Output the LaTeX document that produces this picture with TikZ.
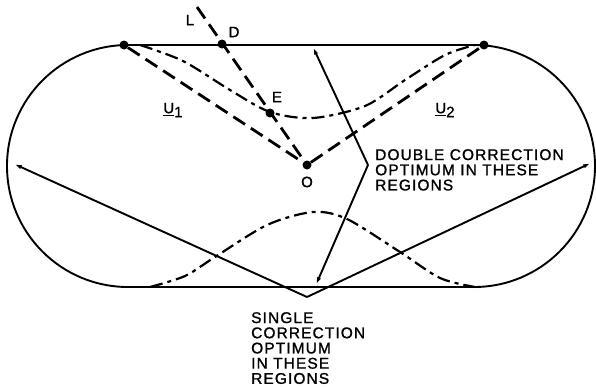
\documentclass[tikz,border=0pt]{standalone}
\usepackage{fontspec}
\newfontfamily\labelfont[LetterSpace=7,FakeBold=1.2]{Liberation Sans}
\usetikzlibrary{arrows.meta}

\begin{document}
\begin{tikzpicture}[>={Latex[length=10pt,width=4pt]}, x=1pt, y=-1pt,
  dot/.style={circle, fill, inner sep=0pt, minimum size=9pt},
  heavydash/.style={line width=2.8pt, dash pattern=on 14pt off 7pt},
  dashdot/.style={line width=2.2pt, dash pattern=on 13pt off 5pt on 4pt off 5pt},
  rim/.style={line width=1.9pt},
  lbl/.style={font=\labelfont\fontsize{15.5}{15.2}\selectfont, inner sep=0pt, align=left},
  tag/.style={font=\labelfont\fontsize{15}{15}\selectfont, inner sep=0pt}]
  \useasboundingbox (0,0) rectangle (596,386);
  % outline of the region
  \draw[rim] (128,45) -- (474,45) arc[start angle=-90, end angle=90, radius=121]
    -- (128,287) arc[start angle=90, end angle=270, radius=121] -- cycle;
  % points
  \node[dot] (A) at (124,45) {};
  \node[dot] (B) at (484,45) {};
  \node[dot] (D) at (222,44) {};
  \node[dot] (E) at (270,113) {};
  \node[dot] (O) at (307,165) {};
  \coordinate (Ltop) at (197,7);
  \draw[heavydash] (A) -- (O) -- (B);
  \draw[heavydash] (Ltop) -- (O);
  % boundaries
  \draw[dashdot] plot[smooth] coordinates {(140,45) (183,61) (230,90) (270,112) (313,118)
    (365,106) (405,80) (445,55) (475,45)};
  \draw[dashdot] plot[smooth] coordinates {(150,287) (185,276) (215,257) (267,225) (313,212)
    (347,219) (400,252) (440,278) (475,287)};
  % pointers
  \coordinate (V) at (307,297);
  \coordinate (lefttip) at (12,163);
  \coordinate (righttip) at (593,162);
  \coordinate (K) at (368,165);
  \coordinate (uptip) at (312,45);
  \coordinate (downtip) at (315,287);
  \draw[rim, ->] (V) -- (lefttip);
  \draw[rim, ->] (V) -- (righttip);
  \draw[rim, ->] (K) -- (uptip);
  \draw[rim, ->] (K) -- (downtip);
  % labels
  \node[tag] (Llbl) at (190,20) {L};
  \node[tag] (Dlbl) at (234,32) {D};
  \node[tag] (Elbl) at (277,97) {E};
  \node[tag] (Olbl) at (307,182) {O};
  \node[tag] (u1) at (173,110) {\underline{U}\raisebox{-4pt}{1}};
  \node[tag] (u2) at (445,110) {\underline{U}\raisebox{-4pt}{2}};
  \node[lbl, anchor=north west] (dbl) at (375,149) {DOUBLE CORRECTION\\OPTIMUM IN THESE\\REGIONS};
  \node[lbl, anchor=north west] (sgl) at (251,312) {SINGLE\\CORRECTION\\OPTIMUM\\IN THESE\\REGIONS};
\end{tikzpicture}
\end{document}
